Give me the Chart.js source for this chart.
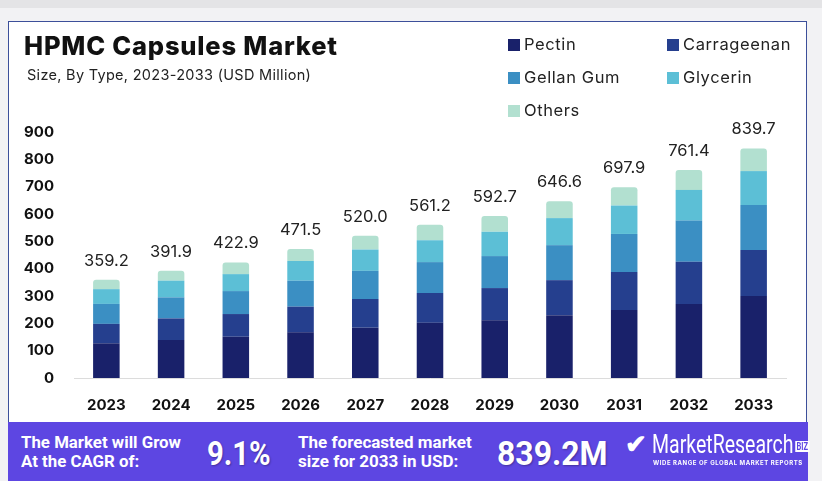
<!DOCTYPE html>
<html>
<head>
<meta charset="utf-8">
<script src="https://cdn.jsdelivr.net/npm/chart.js@4.4.0/dist/chart.umd.min.js"></script>
<style>
  html, body { margin: 0; padding: 0; }
  body { width: 822px; height: 481px; background: #f2f2f4; position: relative; overflow: hidden; font-family: Inter, "Noto Sans", sans-serif; }
  #topband { position: absolute; left: 0; top: 0; width: 822px; height: 8px; background: #e4e4e6; }
  #card { position: absolute; left: 8px; top: 21px; width: 799px; height: 420px; background: #fff; border: 1px solid #3c4f9a; box-sizing: border-box; }
  #plot { position: absolute; left: 0; top: 0; width: 822px; height: 481px; }
  #title { position: absolute; left: 24px; top: 30px; font-size: 25.5px; font-weight: 800; color: #111; letter-spacing: 0.8px; }
  #subtitle { position: absolute; left: 27px; top: 66px; font-size: 14.5px; color: #222; letter-spacing: 0.3px; }
  #legend { position: absolute; left: 508px; top: 34px; width: 300px; }
  .lg { position: absolute; font-size: 16.5px; color: #222; white-space: nowrap; line-height: 20px; letter-spacing: 0.6px; }
  .lg i { display: inline-block; width: 12px; height: 12px; margin-right: 4px; vertical-align: -1px; }
  #banner { position: absolute; left: 8px; top: 422px; width: 800px; height: 59px; background: #5d46e2; color: #fff; }
  .bt { position: absolute; font-family: Roboto, sans-serif; font-weight: 700; font-size: 17px; line-height: 19px; white-space: nowrap; }
  .big { position: absolute; font-family: Roboto, sans-serif; font-weight: 700; font-size: 34px; top: 11px; transform-origin: left top; text-shadow: 1px 1px 2px rgba(0,0,0,0.3); }
</style>
</head>
<body>
<div id="topband"></div>
<div id="card"></div>
<canvas id="plot" width="822" height="481"></canvas>
<div id="title">HPMC Capsules Market</div>
<div id="subtitle">Size, By Type, 2023-2033 (USD Million)</div>
<div id="legend"></div>
<div id="banner">
  <div class="bt" style="left:13px; top:11px; transform:scaleX(0.99); transform-origin:left top;">The Market will Grow<br>At the CAGR of:</div>
  <div class="big" style="left:199px; transform:scaleX(0.86);">9.1%</div>
  <div class="bt" style="left:290px; top:11px;">The forecasted market<br>size for 2033 in USD:</div>
  <div class="big" style="left:489px; transform:scaleX(0.94);">839.2M</div>
  <div style="position:absolute; left:617px; top:9px; font-family:Roboto,sans-serif; font-size:26px; font-weight:700; line-height:26px;">&#10004;</div>
  <div style="position:absolute; left:644px; top:8px; font-family:Roboto,sans-serif; font-size:26px; line-height:28px; transform:scaleX(0.75); transform-origin:left top; white-space:nowrap;">MarketResearch<span style="font-size:10px; font-weight:700; background:#fff; color:#5d46e2; padding:0 2px; vertical-align:3px; margin-left:2px;">BIZ</span></div>
  <div style="position:absolute; left:645px; top:37px; font-size:6px; font-weight:700; letter-spacing:0.55px; white-space:nowrap;">WIDE RANGE OF GLOBAL MARKET REPORTS</div>
</div>
<script>
"use strict";

const years = ['2023', '2024', '2025', '2026', '2027', '2028', '2029', '2030', '2031', '2032', '2033'];
const pectin = [127, 139, 151, 167, 184, 202, 211, 230, 249, 271, 300];
const carrageenan = [71, 79, 83, 94, 105, 109, 118, 128, 139, 154, 168];
const gellanGum = [73, 77, 84, 95, 103, 113, 117, 128, 139, 151, 165];
const glycerin = [54, 61, 62, 72, 78, 80, 89, 99, 104, 112, 124];
const others = [34, 36, 43, 43.5, 50, 57, 58, 62, 67, 73, 83];
const totals = [359.2, 391.9, 422.9, 471.5, 520.0, 561.2, 592.7, 646.6, 697.9, 761.4, 839.7];

const seriesNames = ['Pectin', 'Carrageenan', 'Gellan Gum', 'Glycerin', 'Others'];
const seriesData = [pectin, carrageenan, gellanGum, glycerin, others];
const seriesColors = ['#19216a', '#253f8e', '#3b8fc3', '#5cbfd6', '#b2e0d0'];

// legend (2 columns)
const legendPos = [[0, 0], [159, 0], [0, 33], [159, 33], [0, 66]];
let legendHtml = '';
seriesNames.forEach((n, i) => {
    legendHtml += `<div class="lg" style="left:${legendPos[i][0]}px; top:${legendPos[i][1]}px;"><i style="background:${seriesColors[i]}"></i>${n}</div>`;
});
document.getElementById('legend').innerHTML = legendHtml;

const totalLabels = {
    id: 'totalLabels',
    afterDatasetsDraw(chart) {
        const c = chart.ctx;
        const x = chart.scales.x, y = chart.scales.y;
        c.save();
        c.font = '16.5px Inter, "Noto Sans", sans-serif';
        c.fillStyle = '#222';
        c.textAlign = 'center';
        c.textBaseline = 'middle';
        totals.forEach((t, i) => {
            c.fillText(t.toFixed(1), x.getPixelForValue(i), y.getPixelForValue(t) - 19);
        });
        c.restore();
    }
};

const datasets = seriesNames.map((n, i) => ({
    label: n,
    data: seriesData[i],
    backgroundColor: seriesColors[i],
    borderWidth: 0,
    borderRadius: i === 4 ? { topLeft: 3, topRight: 3 } : 0,
    borderSkipped: false,
    categoryPercentage: 1,
    barPercentage: 0.41
}));

new Chart(document.getElementById('plot'), {
    type: 'bar',
    data: { labels: years, datasets: datasets },
    plugins: [totalLabels],
    options: {
        responsive: false,
        animation: false,
        layout: { padding: { left: 0, top: 132, right: 36, bottom: 60 } },
        plugins: { legend: { display: false }, tooltip: { enabled: false } },
        scales: {
            x: {
                stacked: true,
                grid: { display: false, drawTicks: false },
                border: { display: true, color: '#dcdcdc', width: 1 },
                ticks: { color: '#111', font: { family: 'Inter, "Noto Sans", sans-serif', size: 15, weight: '700' }, padding: 18 },
                afterFit(scale) { scale.height = 43; }
            },
            y: {
                stacked: true,
                min: 0,
                max: 900,
                grid: { display: false, drawTicks: false },
                border: { display: false },
                ticks: { stepSize: 100, color: '#111', font: { family: 'Inter, "Noto Sans", sans-serif', size: 15, weight: '700' }, padding: 20 },
                afterFit(scale) { scale.width = 74; }
            }
        }
    }
});
</script>
</body>
</html>
